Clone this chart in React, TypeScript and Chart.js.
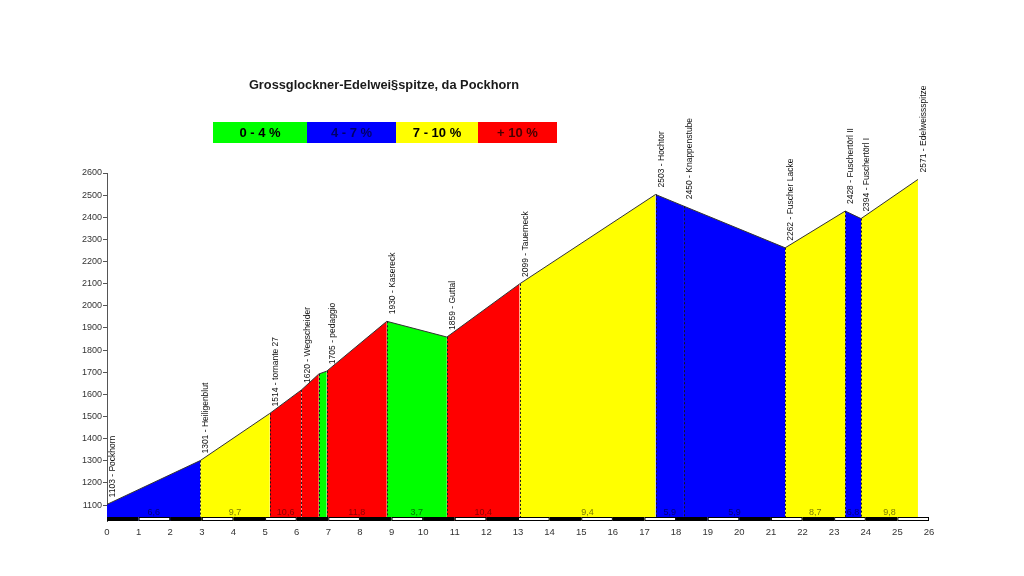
import React, { useEffect, useRef } from "react";
import { Chart, registerables } from "chart.js";

Chart.register(...registerables);

const TITLE = "Grossglockner-Edelwei§spitze, da Pockhorn";

// waypoints
const KM = [0, 2.95, 5.15, 6.15, 6.7, 6.95, 8.85, 10.75, 13.05, 17.35, 18.25, 21.45, 23.35, 23.85, 25.65];
const ELEV = [1103, 1301, 1514, 1620, 1692, 1705, 1930, 1859, 2099, 2503, 2450, 2262, 2428, 2394, 2571];
const NAMES = [
  "Pockhorn",
  "Heiligenblut",
  "tornante 27",
  "Wegscheider",
  "",
  "pedaggio",
  "Kasereck",
  "Guttal",
  "Tauerneck",
  "Hochtor",
  "Knappenstube",
  "Fuscher Lacke",
  "Fuschertörl II",
  "Fuschertörl I",
  "Edelweissspitze",
];

// segments between consecutive waypoints
const SEG_CLASS = ["b", "y", "r", "r", "g", "r", "g", "r", "y", "b", "b", "y", "b", "y"];
const SEG_SLOPE = ["6,6", "9,7", "10,6", "", "", "11,8", "3,7", "10,4", "9,4", "5,9", "5,9", "8,7", "6,8", "9,8"];

// legend
const LEGEND_KEYS = ["g", "b", "y", "r"];
const LEGEND_LABELS = ["0 - 4 %", "4 - 7 %", "7 - 10 %", "+ 10 %"];

const FILL: Record<string, string> = { g: "#00ff00", b: "#0000ff", y: "#ffff00", r: "#ff0000" };
const DARK: Record<string, string> = { g: "#007a00", b: "#00007a", y: "#7a7a00", r: "#8a0000" };
const LEGEND_TEXT: Record<string, string> = { g: "#000000", b: "#00006a", y: "#000000", r: "#4a0000" };

const Y_TICKS_MIN = 1100;
const Y_TICKS_MAX = 2600;
const X_MAX = 26;

const FONT = "'Liberation Sans', Arial, sans-serif";

const overlay = {
  id: "profileOverlay",
  afterDatasetsDraw(chart: any) {
    const { ctx, chartArea, scales } = chart;
    const xs = scales.x;
    const ys = scales.y;
    const base = chartArea.bottom - 4;
    ctx.save();

    // dotted boundaries
    ctx.strokeStyle = "#1a1a1a";
    ctx.lineWidth = 1;
    ctx.setLineDash([2, 2]);
    for (let i = 1; i < KM.length - 1; i++) {
      const px = Math.round(xs.getPixelForValue(KM[i])) + 0.5;
      ctx.beginPath();
      ctx.moveTo(px, ys.getPixelForValue(ELEV[i]));
      ctx.lineTo(px, base);
      ctx.stroke();
    }
    ctx.setLineDash([]);

    // slope labels
    ctx.font = `9px ${FONT}`;
    ctx.textAlign = "center";
    ctx.textBaseline = "alphabetic";
    for (let i = 0; i < SEG_SLOPE.length; i++) {
      if (!SEG_SLOPE[i]) continue;
      const cx = (xs.getPixelForValue(KM[i]) + xs.getPixelForValue(KM[i + 1])) / 2;
      ctx.fillStyle = DARK[SEG_CLASS[i]];
      ctx.fillText(SEG_SLOPE[i], cx, base - 2.5);
    }

    // km bar
    for (let k = 0; k < X_MAX; k++) {
      const x0 = xs.getPixelForValue(k);
      const x1 = xs.getPixelForValue(k + 1);
      if (k % 2 === 0) {
        ctx.fillStyle = "#000";
        ctx.fillRect(x0, chartArea.bottom - 4, x1 - x0, 4);
      } else {
        ctx.fillStyle = "#fff";
        ctx.fillRect(x0, chartArea.bottom - 4, x1 - x0, 4);
        ctx.strokeStyle = "#000";
        ctx.strokeRect(x0 + 0.5, chartArea.bottom - 3.5, x1 - x0 - 1, 3);
      }
    }

    // waypoint labels
    ctx.fillStyle = "#111";
    ctx.font = `8.5px ${FONT}`;
    ctx.textAlign = "left";
    ctx.textBaseline = "top";
    for (let i = 0; i < KM.length; i++) {
      if (!NAMES[i]) continue;
      const px = xs.getPixelForValue(KM[i]);
      const py = ys.getPixelForValue(ELEV[i]);
      ctx.save();
      ctx.translate(px + 1.5, py - 7);
      ctx.rotate(-Math.PI / 2);
      ctx.fillText(`${ELEV[i]} - ${NAMES[i]}`, 0, 0);
      ctx.restore();
    }

    // title
    ctx.fillStyle = "#1a1a1a";
    ctx.font = `bold 12.8px ${FONT}`;
    ctx.textAlign = "center";
    ctx.textBaseline = "middle";
    ctx.fillText(TITLE, 384, 85);

    // legend
    const edges = [213, 307, 396, 478, 557];
    for (let i = 0; i < LEGEND_KEYS.length; i++) {
      const k = LEGEND_KEYS[i];
      ctx.fillStyle = FILL[k];
      ctx.fillRect(edges[i], 122, edges[i + 1] - edges[i], 21);
      ctx.fillStyle = LEGEND_TEXT[k];
      ctx.font = `bold 13px ${FONT}`;
      ctx.fillText(LEGEND_LABELS[i], (edges[i] + edges[i + 1]) / 2, 133);
    }
    ctx.restore();
  },
};

export default function App() {
  const ref = useRef<HTMLCanvasElement | null>(null);
  useEffect(() => {
    if (!ref.current) return;
    const datasets = SEG_CLASS.map((c, i) => ({
      data: [
        { x: KM[i], y: ELEV[i] },
        { x: KM[i + 1], y: ELEV[i + 1] },
      ],
      backgroundColor: FILL[c],
      borderColor: "#333",
      borderWidth: 1,
      fill: "start",
      pointRadius: 0,
      tension: 0,
    }));
    const chart = new Chart(ref.current, {
      type: "line",
      data: { datasets },
      plugins: [overlay],
      options: {
        responsive: false,
        animation: false,
        layout: { padding: { top: 173, right: 95, left: 0, bottom: 0 } },
        plugins: { legend: { display: false }, tooltip: { enabled: false }, title: { display: false } },
        scales: {
          x: {
            type: "linear",
            min: 0,
            max: X_MAX,
            grid: { display: false, drawTicks: false, tickLength: 0 },
            border: { display: false },
            ticks: { stepSize: 1, color: "#333", font: { size: 9.5, family: FONT }, padding: 6, maxRotation: 0, autoSkip: false },
            afterFit: (s: any) => {
              s.height = 55;
            },
          },
          y: {
            type: "linear",
            min: 1028,
            max: Y_TICKS_MAX,
            grid: { display: true, drawOnChartArea: false, drawTicks: true, tickLength: 4, color: "#555" },
            border: { display: true, color: "#555", width: 1 },
            ticks: {
              stepSize: 100,
              includeBounds: false,
              color: "#333",
              padding: 1,
              font: { size: 9, family: FONT },
              callback: (v: any) => (v >= Y_TICKS_MIN ? String(v) : ""),
            },
            afterFit: (s: any) => {
              s.width = 107;
            },
          },
        },
      },
    });
    return () => chart.destroy();
  }, []);
  return (
    <div style={{ position: "absolute", left: 0, top: 0, width: 1024, height: 576, background: "#fff" }}>
      <canvas ref={ref} width={1024} height={576} />
    </div>
  );
}
